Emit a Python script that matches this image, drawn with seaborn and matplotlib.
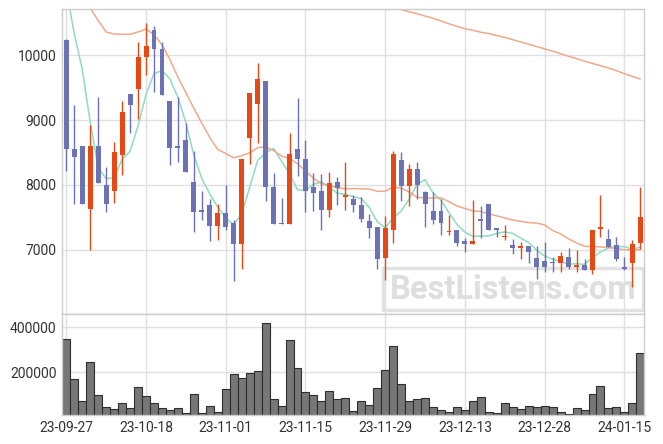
import numpy as np
import pandas as pd
import matplotlib
matplotlib.use("Agg")
import matplotlib.pyplot as plt
import seaborn as sns
from matplotlib.patches import Rectangle

# trading days, tick every 10 sessions
tick_pos = [0, 10, 20, 30, 40, 50, 60, 70]
tick_labels = ['23-09-27', '23-10-18', '23-11-01', '23-11-15',
               '23-11-29', '23-12-13', '23-12-28', '24-01-15']

open_ = [10236, 8559, 8605, 7631, 8605, 8005, 7903, 8456, 9405, 9477,
         9964, 10390, 10097, 9297, 8605, 8697, 8051, 7621, 7697, 7364,
         7574, 7421, 7087, 8718, 9251, 9605, 7969, 7405, 7400, 8559,
         8400, 7964, 7903, 7610, 8051, 7815, 7790, 7692, 7441, 7359,
         6872, 7303, 8385, 7979, 8251, 7897, 7605, 7605, 7272, 7313,
         7138, 7092, 7482, 7713, 7344, 7195, 7082, 7026, 7067, 6877,
         6831, 6805, 6800, 6892, 6733, 6769, 6687, 7328, 7174, 7082,
         6733, 6795, 7103]
high = [10240, 9231, 8605, 8918, 9354, 8272, 8662, 9297, 9405, 10200,
        10487, 10451, 10200, 9297, 9354, 8954, 8518, 7913, 7790, 7708,
        8005, 7467, 8400, 9415, 9877, 9605, 8185, 7800, 8800, 9338,
        8692, 8185, 8174, 8200, 8118, 8354, 7851, 7815, 7554, 7359,
        7518, 8518, 8503, 8323, 8354, 7913, 7887, 7785, 7544, 7313,
        7180, 7774, 7672, 7713, 7344, 7385, 7169, 7118, 7067, 7067,
        7118, 6887, 6969, 7031, 7005, 6862, 7313, 7851, 7328, 7200,
        6892, 7159, 7969]
low = [8221, 7713, 7708, 7005, 8031, 7585, 7723, 8159, 8800, 9015,
       9697, 9431, 9379, 8313, 8354, 8195, 7277, 7456, 7139, 7159,
       7313, 6528, 6708, 8323, 8646, 7749, 7400, 7395, 7400, 8133,
       7585, 7605, 7313, 7508, 7692, 7615, 7590, 7431, 7185, 6713,
       6544, 7108, 7754, 7672, 7790, 7354, 7400, 7231, 7236, 7067,
       6964, 7092, 7180, 7303, 7200, 7159, 6938, 6862, 6800, 6554,
       6667, 6656, 6656, 6708, 6656, 6687, 6636, 7200, 7051, 6826,
       6687, 6431, 7021]
close = [8549, 8426, 7708, 8605, 8031, 7708, 8513, 9128, 9226, 9974,
         10144, 10087, 9379, 8564, 8564, 8195, 7580, 7590, 7364, 7574,
         7349, 7087, 8400, 9415, 9636, 7964, 7400, 7395, 8482, 8395,
         7903, 7872, 7610, 8026, 7949, 7826, 7687, 7477, 7333, 6857,
         7344, 8477, 7979, 8246, 8005, 7703, 7456, 7410, 7297, 7108,
         7092, 7138, 7441, 7303, 7303, 7205, 7026, 7067, 6964, 6733,
         6733, 6795, 6908, 6733, 6769, 6687, 7313, 7344, 7051, 6856,
         6703, 7097, 7513]
volume = [349000, 170000, 72000, 246000, 101000, 49000, 40000, 67000, 45000, 134000,
          94000, 63000, 45000, 36000, 45000, 22000, 103000, 22000, 54000, 27000,
          125000, 193000, 175000, 197000, 206000, 421000, 81000, 54000, 345000, 219000,
          112000, 99000, 76000, 116000, 81000, 85000, 31000, 72000, 58000, 130000,
          210000, 318000, 148000, 76000, 81000, 85000, 49000, 36000, 27000, 49000,
          36000, 76000, 90000, 27000, 22000, 63000, 49000, 40000, 54000, 49000,
          54000, 49000, 27000, 18000, 45000, 36000, 103000, 139000, 45000, 49000,
          27000, 67000, 287000]

# moving averages as drawn on the chart
ma5 = [11000, 10330, 9780, 8970, 8264, 8096, 8113, 8397, 8521, 8910,
       9397, 9712, 9762, 9630, 9348, 8958, 8456, 8099, 7859, 7661,
       7491, 7393, 7555, 7965, 8377, 8500, 8563, 8362, 8175, 7927,
       7915, 8009, 8052, 7961, 7872, 7857, 7820, 7793, 7654, 7436,
       7340, 7498, 7598, 7781, 8010, 8082, 7878, 7764, 7574, 7395,
       7273, 7209, 7215, 7216, 7255, 7278, 7256, 7181, 7113, 6999,
       6905, 6858, 6827, 6780, 6788, 6778, 6882, 6969, 7033, 7050,
       7053, 7010, 7044]
ma20 = [11200, 11050, 10900, 10720, 10530, 10354, 10323, 10318, 10318, 10354,
        10400, 10313, 10159, 9928, 9660, 9420, 9180, 8950, 8730, 8545,
        8485, 8419, 8453, 8494, 8574, 8587, 8531, 8444, 8407, 8328,
        8216, 8105, 8017, 7990, 7959, 7941, 7946, 7941, 7939, 7903,
        7903, 7972, 7951, 7893, 7811, 7798, 7801, 7802, 7743, 7678,
        7638, 7601, 7593, 7556, 7524, 7493, 7460, 7440, 7421, 7415,
        7384, 7300, 7247, 7171, 7109, 7058, 7051, 7048, 7036, 7023,
        7004, 7002, 7005]
ma120_start = 40
ma120 = [10800, 10745, 10700, 10665, 10635, 10600, 10565, 10525, 10480, 10440,
         10405, 10380, 10350, 10330, 10300, 10270, 10236, 10200, 10165, 10130,
         10095, 10060, 10020, 9980, 9945, 9905, 9870, 9835, 9800, 9760,
         9712, 9670, 9631]

RED = '#e64816'
BLUE = '#6c73b4'
GREEN = '#8fdcc0'
SALMON = '#f0a98a'

df = pd.DataFrame({'open': open_, 'high': high, 'low': low, 'close': close,
                   'volume': volume, 'ma5': ma5, 'ma20': ma20})
df['idx'] = np.arange(len(df))
df_long = pd.DataFrame({'idx': np.arange(ma120_start, ma120_start + len(ma120)),
                        'ma120': ma120})

sns.set_theme(style="whitegrid")
plt.rcParams['font.family'] = ['Roboto', 'DejaVu Sans']

W, H = 663, 444
fig = plt.figure(figsize=(6.63, 4.44), dpi=100)
ax = fig.add_axes([62 / W, 1 - 314 / H, (644 - 62) / W, (314 - 9) / H])
axv = fig.add_axes([62 / W, 1 - 415 / H, (644 - 62) / W, (415 - 314) / H], sharex=ax)

for a in (ax, axv):
    a.set_facecolor('white')
    a.set_axisbelow(True)
    a.grid(True, color='#e0e0e0', lw=1)
    for s in a.spines.values():
        s.set_color('#cccccc')
        s.set_linewidth(1)
    a.tick_params(length=0, labelsize=10, labelcolor='#333333', pad=4)

# moving averages
sns.lineplot(data=df, x='idx', y='ma5', ax=ax, color=GREEN, lw=1.1, zorder=2)
sns.lineplot(data=df, x='idx', y='ma20', ax=ax, color=SALMON, lw=1.1, zorder=2)
sns.lineplot(data=df_long, x='idx', y='ma120', ax=ax, color=SALMON, lw=1.1, zorder=2)

# candles
up = df['close'] >= df['open']
colors = np.where(up, RED, BLUE)
ax.vlines(df['idx'], df['low'], df['high'], colors=colors, lw=1, zorder=3)
body_bottom = df[['open', 'close']].min(axis=1)
body_h = (df['close'] - df['open']).abs().clip(lower=25)
ax.bar(df['idx'], body_h, bottom=body_bottom, width=0.62, color=colors,
       linewidth=0, zorder=4)

ax.set_ylim(6015, 10708)
ax.set_yticks([7000, 8000, 9000, 10000])
ax.set_xlim(-0.54, 72.46)
ax.set_xticks(tick_pos)
ax.tick_params(axis='x', labelbottom=False)
ax.set_xlabel('')
ax.set_ylabel('')

# watermark
ax.add_patch(Rectangle((383 / W, 1 - 310 / H), 260 / W, 42 / H, transform=fig.transFigure,
                       fill=False, edgecolor='#e2e2e2', lw=2.5, clip_on=False, zorder=1))
ax.text(513 / W, 1 - 290 / H, 'BestListens.com', transform=fig.transFigure,
        ha='center', va='center', fontsize=23.5, fontweight='bold', color='#dedede',
        zorder=1)

# volume
sns.barplot(data=df, x='idx', y='volume', ax=axv, native_scale=True, color='#777777',
            saturation=1, width=1.0, edgecolor='#2e2e2e', linewidth=0.8, zorder=2)
axv.set_ylim(12000, 458600)
axv.set_yticks([200000, 400000])
axv.set_yticklabels(['200000', '400000'])
axv.set_xlim(-0.54, 72.46)
axv.set_xticks(tick_pos)
axv.set_xticklabels(tick_labels)
axv.set_xlabel('')
axv.set_ylabel('')

fig.savefig('out.png', dpi=100)
